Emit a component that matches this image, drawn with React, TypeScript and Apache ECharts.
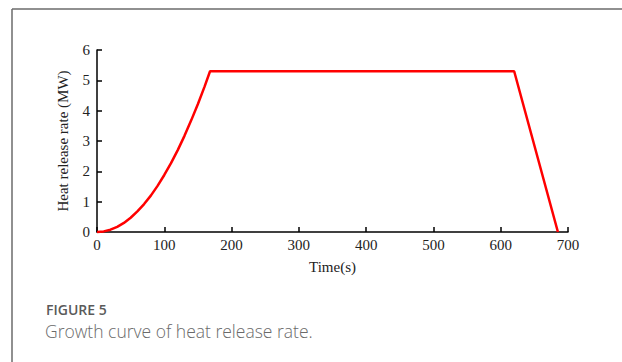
import React, { useEffect, useRef } from "react";
import * as echarts from "echarts";

const timeS = [0, 10, 20, 30, 40, 50, 60, 70, 80, 90, 100, 110, 120, 130, 140, 150, 160, 168, 620, 685];
const heatMW = [0, 0.02, 0.075, 0.17, 0.3, 0.47, 0.68, 0.92, 1.2, 1.52, 1.88, 2.27, 2.7, 3.17, 3.68, 4.22, 4.8, 5.3, 5.3, 0];
const xTicks = [0, 100, 200, 300, 400, 500, 600, 700];
const yTicks = [0, 1, 2, 3, 4, 5, 6];
const captionTitle = "FIGURE 5";
const captionText = "Growth curve of heat release rate.";

export default function App() {
  const ref = useRef<HTMLDivElement>(null);
  useEffect(() => {
    if (!ref.current) return;
    const chart = echarts.init(ref.current, undefined, { renderer: "svg" });
    const serif = "'Liberation Serif', 'Times New Roman', serif";
    const axisCommon = {
      axisLine: { show: true, lineStyle: { color: "#000", width: 1.5 } },
      axisTick: { show: true, inside: true, length: 5, lineStyle: { color: "#000", width: 1.5 } },
      splitLine: { show: false },
      nameTextStyle: { fontFamily: serif, fontSize: 15, color: "#222" },
    };
    chart.setOption({
      animation: false,
      grid: { left: 97, right: 54, top: 50, bottom: 130, containLabel: false },
      xAxis: {
        type: "value",
        min: xTicks[0],
        max: xTicks[xTicks.length - 1],
        interval: 100,
        name: "Time(s)",
        nameLocation: "middle",
        nameGap: 27,
        axisLabel: { fontFamily: serif, fontSize: 15, color: "#222", margin: 5 },
        ...axisCommon,
      },
      yAxis: {
        type: "value",
        min: yTicks[0],
        max: yTicks[yTicks.length - 1],
        interval: 1,
        name: "Heat release rate (MW)",
        nameLocation: "middle",
        nameGap: 27,
        axisLabel: { fontFamily: serif, fontSize: 15, color: "#222", margin: 7 },
        ...axisCommon,
      },
      series: [
        {
          type: "line",
          data: timeS.map((t, i) => [t, heatMW[i]]),
          showSymbol: false,
          smooth: false,
          lineStyle: { color: "#ff0000", width: 2.5 },
          clip: false,
        },
      ],
      graphic: [
        { type: "line", shape: { x1: 12, y1: 9, x2: 622, y2: 9 }, style: { stroke: "#6b6b6b", lineWidth: 1.5 } },
        { type: "line", shape: { x1: 12, y1: 9, x2: 12, y2: 362 }, style: { stroke: "#6b6b6b", lineWidth: 1.5 } },
        {
          type: "text",
          left: 46,
          top: 302,
          style: { text: captionTitle, fontFamily: "'Open Sans', sans-serif", fontSize: 14, fontWeight: 600, fill: "#5a5a5a" },
        },
        {
          type: "text",
          left: 45,
          top: 322,
          style: { text: captionText, fontFamily: "'Open Sans', sans-serif", fontSize: 17.5, fontWeight: 300, fill: "#6a6a6a" },
        },
      ],
    });
    return () => chart.dispose();
  }, []);
  return (
    <div
      ref={ref}
      style={{ position: "fixed", left: 0, top: 0, width: 622, height: 362, background: "#fff" }}
    />
  );
}
